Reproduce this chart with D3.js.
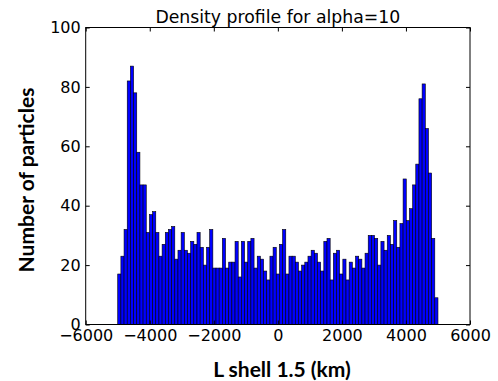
<!DOCTYPE html>
<html>
<head>
<meta charset="utf-8">
<script src="https://cdn.jsdelivr.net/npm/d3@7"></script>
<style>
  html, body { margin: 0; padding: 0; background: #fff; }
  svg { display: block; }
  .tick-label { font-family: "DejaVu Sans", sans-serif; font-size: 16px; fill: #000; }
  .title { font-family: "DejaVu Sans", sans-serif; font-size: 17.3px; fill: #000; }
  .axis-label { font-family: Lato, "Open Sans", sans-serif; font-weight: 700; font-size: 21px; fill: #000; }
</style>
</head>
<body>
<svg id="chart" width="498" height="381"></svg>
<script>
// Histogram of particle positions along the L = 1.5 shell: 101 equal bins spanning -5000..5000 km
const histRangeKm = [-5000, 5000];
const particleCounts = [
  17, 23, 32, 82, 87, 78, 58, 47, 47, 31,
  37, 38, 31, 23, 27, 31, 32, 33, 22, 25,
  31, 25, 24, 28, 27, 31, 26, 20, 26, 32,
  19, 19, 19, 29, 19, 21, 21, 28, 16, 28,
  21, 28, 29, 19, 23, 22, 18, 15, 23, 26,
  17, 27, 32, 17, 23, 23, 21, 18, 20, 21,
  23, 25, 24, 21, 18, 28, 29, 15, 24, 25,
  17, 22, 15, 21, 19, 23, 22, 19, 24, 30,
  30, 29, 20, 28, 25, 30, 27, 35, 26, 34,
  49, 35, 39, 47, 54, 76, 81, 66, 51, 29,
  9
];
const xTickValues = [-6000, -4000, -2000, 0, 2000, 4000, 6000];
const yTickValues = [0, 20, 40, 60, 80, 100];
const titleText = "Density profile for alpha=10";
const xLabelText = "L shell 1.5 (km)";
const yLabelText = "Number of particles";

const svg = d3.select("#chart");
const plot = { left: 85.7, right: 470, top: 27.5, bottom: 324.5 };

const x = d3.scaleLinear().domain([-6000, 6000]).range([plot.left, plot.right]);
const y = d3.scaleLinear().domain([0, 100]).range([plot.bottom, plot.top]);

// bin index -> bin edge in km
const edgeKm = d3.scaleLinear().domain([0, particleCounts.length]).range(histRangeKm);
const bins = particleCounts.map((n, i) => ({ x0: edgeKm(i), x1: edgeKm(i + 1), n }));

// bars
svg.append("g")
  .selectAll("rect")
  .data(bins)
  .join("rect")
  .attr("x", d => x(d.x0))
  .attr("y", d => y(d.n))
  .attr("width", d => x(d.x1) - x(d.x0))
  .attr("height", d => y(0) - y(d.n))
  .attr("fill", "#0000ff")
  .attr("stroke", "#000")
  .attr("stroke-width", 0.6);

const fmt = v => (v < 0 ? "\u2212" + Math.abs(v) : String(v));

// inward ticks on all four sides
const tickLen = 4;
const axisBottom = d3.axisBottom(x).tickValues(xTickValues).tickSizeInner(-tickLen).tickSizeOuter(0).tickFormat(fmt).tickPadding(5);
const axisTop = d3.axisTop(x).tickValues(xTickValues).tickSizeInner(-tickLen).tickSizeOuter(0).tickFormat("");
const axisLeft = d3.axisLeft(y).tickValues(yTickValues).tickSizeInner(-tickLen).tickSizeOuter(0).tickFormat(d3.format("d")).tickPadding(5);
const axisRight = d3.axisRight(y).tickValues(yTickValues).tickSizeInner(-tickLen).tickSizeOuter(0).tickFormat("");

function styleAxis(g) {
  g.select(".domain").remove();
  g.selectAll(".tick line").attr("stroke", "#000").attr("stroke-width", 1);
  g.selectAll(".tick text").attr("class", "tick-label").attr("font-family", null).attr("font-size", null);
}

svg.append("g").attr("transform", `translate(0,${plot.bottom})`).call(axisBottom).call(styleAxis);
svg.append("g").attr("transform", `translate(0,${plot.top})`).call(axisTop).call(styleAxis);
svg.append("g").attr("transform", `translate(${plot.left},0)`).call(axisLeft).call(styleAxis);
svg.append("g").attr("transform", `translate(${plot.right},0)`).call(axisRight).call(styleAxis);

// frame
svg.append("rect")
  .attr("x", plot.left).attr("y", plot.top)
  .attr("width", plot.right - plot.left).attr("height", plot.bottom - plot.top)
  .attr("fill", "none").attr("stroke", "#000").attr("stroke-width", 1);

// title
svg.append("text")
  .attr("class", "title")
  .attr("x", (plot.left + plot.right) / 2)
  .attr("y", 22.5)
  .attr("text-anchor", "middle")
  .text(titleText);

// axis labels
svg.append("text")
  .attr("class", "axis-label")
  .attr("x", 282)
  .attr("y", 377)
  .attr("text-anchor", "middle")
  .text(xLabelText);

svg.append("text")
  .attr("class", "axis-label")
  .attr("transform", `translate(34,180) rotate(-90)`)
  .attr("text-anchor", "middle")
  .text(yLabelText);
</script>
</body>
</html>
